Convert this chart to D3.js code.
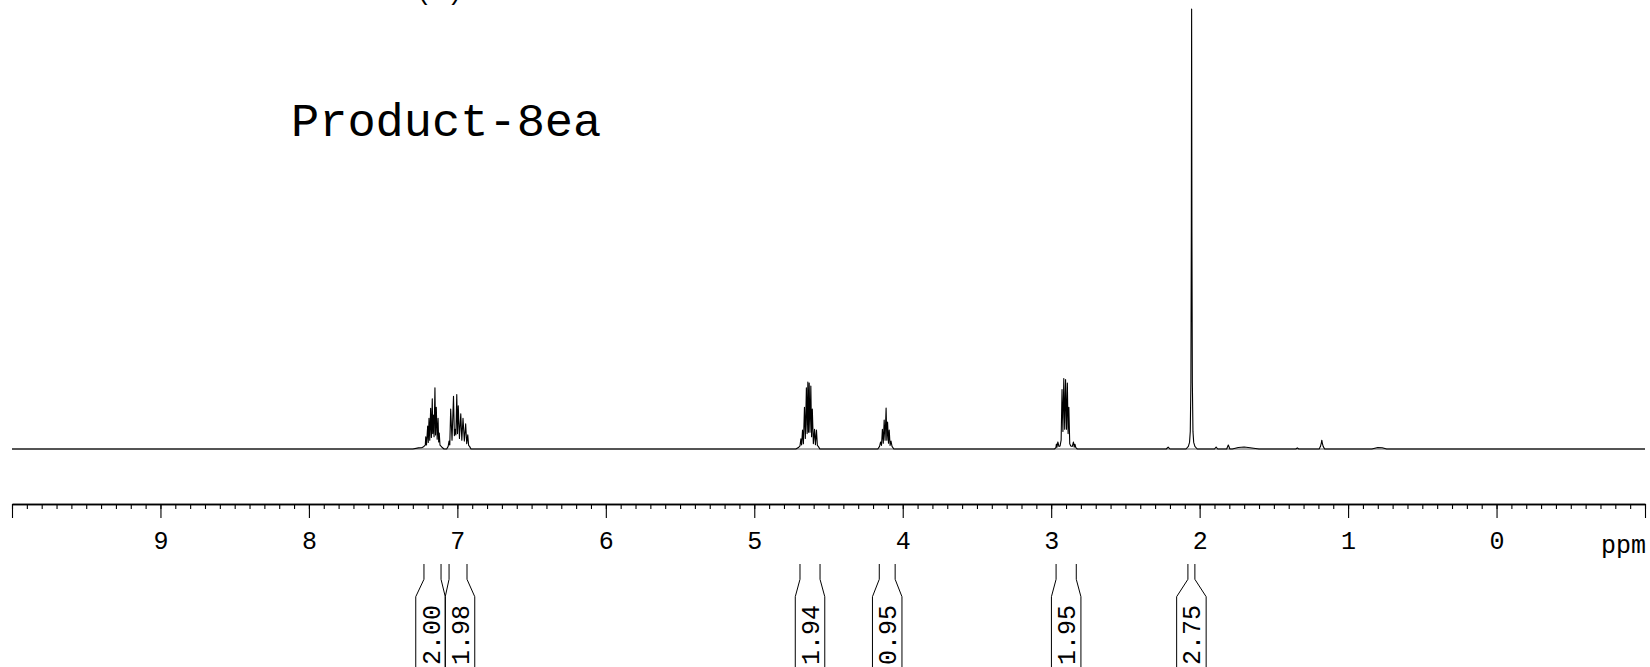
<!DOCTYPE html>
<html>
<head>
<meta charset="utf-8">
<script src="https://cdn.jsdelivr.net/npm/d3@7"></script>
<style>
html,body{margin:0;padding:0;background:#fff;overflow:hidden}
svg{display:block}
</style>
</head>
<body>
<svg id="chart" width="1650" height="667"></svg>
<script>
// ---------------- data (ppm, intensity as % of the tallest signal) ----------------
const titleText = "Product-8ea";
const panelLabel = "(a)";
const axisUnit = "ppm";

const majorTicks = [10, 9, 8, 7, 6, 5, 4, 3, 2, 1, 0, -1];
const majorTickLabels = ["", "9", "8", "7", "6", "5", "4", "3", "2", "1", "0", ""];

// integral regions
const integralValues = ["2.00", "1.98", "1.94", "0.95", "1.95", "2.75"];
const integralFrom   = [7.225, 7.056, 4.692, 4.158, 2.967, 2.079];
const integralTo     = [7.110, 6.935, 4.557, 4.051, 2.831, 2.032];

// spectrum trace vertices
const traceEnds = [[10.0, 0], [-1.0, 0]];

const multiplet717 = [
  [7.300, 0], [7.262, 0.25], [7.240, 0.3], [7.228, 0.5], [7.222, 0.7], [7.216, 0.9],
  [7.213, 2.8], [7.208, 0.9], [7.200, 5.2], [7.196, 1.5], [7.191, 7.0], [7.186, 2.0],
  [7.180, 9.25], [7.175, 2.6], [7.169, 11.4], [7.166, 3.5], [7.162, 7.7], [7.157, 2.8],
  [7.151, 13.9], [7.147, 3.2], [7.142, 9.5], [7.136, 2.2], [7.130, 7.0], [7.126, 1.6],
  [7.122, 3.6], [7.117, 0.9], [7.112, 0.7], [7.104, 0.4], [7.090, 0]
];

const multiplet700 = [
  [7.072, 0], [7.062, 0.6], [7.056, 1.8], [7.051, 0.9], [7.045, 9.1], [7.036, 2.0],
  [7.026, 12.0], [7.020, 3.0], [7.015, 4.5], [7.010, 3.2], [7.004, 12.4], [6.999, 3.5],
  [6.994, 9.8], [6.986, 2.4], [6.977, 8.0], [6.970, 2.0], [6.962, 7.0], [6.953, 1.8],
  [6.944, 5.7], [6.937, 1.2], [6.930, 3.2], [6.924, 0.8], [6.918, 0.6], [6.908, 0]
];

const multiplet464 = [
  [4.720, 0], [4.700, 0.4], [4.692, 0.7], [4.686, 2.3], [4.681, 0.9], [4.675, 4.3],
  [4.669, 1.2], [4.662, 9.5], [4.656, 2.4], [4.649, 13.9], [4.644, 3.5], [4.639, 15.2],
  [4.635, 3.8], [4.630, 15.0], [4.625, 3.8], [4.619, 14.3], [4.614, 2.8], [4.609, 9.1],
  [4.602, 1.2], [4.594, 4.5], [4.588, 1.0], [4.581, 4.3], [4.575, 0.8], [4.569, 0.6], [4.558, 0]
];

const multiplet411 = [
  [4.168, 0], [4.156, 0.6], [4.149, 1.6], [4.143, 0.8], [4.137, 4.5], [4.131, 1.3],
  [4.125, 6.6], [4.119, 2.0], [4.112, 9.3], [4.107, 2.0], [4.102, 6.1], [4.096, 1.3],
  [4.091, 4.3], [4.085, 0.8], [4.079, 1.8], [4.072, 0.6], [4.060, 0]
];

const multiplet291 = [
  [2.978, 0], [2.968, 0.3], [2.965, 1.1], [2.961, 0.4], [2.955, 1.6], [2.948, 0.6],
  [2.940, 0.7], [2.933, 2.0], [2.927, 13.5], [2.921, 4.0], [2.915, 16.0], [2.909, 4.5],
  [2.903, 15.8], [2.897, 4.5], [2.891, 15.0], [2.886, 3.5], [2.881, 9.5], [2.875, 1.2],
  [2.868, 0.7], [2.858, 0.6], [2.850, 1.6], [2.845, 0.4], [2.840, 1.1], [2.834, 0.3], [2.824, 0]
];

const singlet205 = [
  [2.092, 0], [2.076, 0.6], [2.068, 1.5], [2.063, 4.0], [2.059, 15], [2.056, 50],
  [2.054, 100], [2.052, 50], [2.049, 15], [2.045, 4.0], [2.040, 1.5], [2.032, 0.6], [2.016, 0]
];

const minorSignals = [
  [2.225, 0], [2.212, 0.45], [2.200, 0],
  [1.900, 0], [1.889, 0.45], [1.878, 0],
  [1.818, 0], [1.807, 0.9], [1.796, 0],
  [1.780, 0], [1.740, 0.35], [1.700, 0.45], [1.660, 0.3], [1.600, 0],
  [1.352, 0], [1.342, 0.25], [1.332, 0],
  [1.195, 0], [1.186, 0.6], [1.180, 1.4], [1.177, 2.0], [1.174, 1.4], [1.168, 0.6], [1.158, 0],
  [0.840, 0], [0.800, 0.35], [0.770, 0.3], [0.740, 0]
];

// ---------------- drawing ----------------
const W = 1650, H = 667;
const FONT = "'Courier New','Liberation Mono',monospace";
const svg = d3.select("#chart");

const x = d3.scaleLinear().domain([10, -1]).range([12, 1645]);
const y = d3.scaleLinear().domain([0, 100]).range([449, 9]);

const trace = [].concat(traceEnds, multiplet717, multiplet700, multiplet464,
  multiplet411, multiplet291, singlet205, minorSignals)
  .sort((a, b) => b[0] - a[0]);

// zero line (visible under multiplet feet)
svg.append("line")
  .attr("x1", x(10)).attr("x2", x(-1))
  .attr("y1", y(0)).attr("y2", y(0))
  .attr("stroke", "#555").attr("stroke-width", 1);

const line = d3.line().x(d => x(d[0])).y(d => y(d[1]));
svg.append("path")
  .datum(trace)
  .attr("d", line)
  .attr("fill", "none")
  .attr("stroke", "#000")
  .attr("stroke-width", 1.1)
  .attr("stroke-linejoin", "round");

// axis
const axisY = 504;
const minorTicks = d3.range(0, 111).map(i => +(10 - i * 0.1).toFixed(1));
const axisG = svg.append("g").attr("transform", `translate(0,${axisY})`);

axisG.append("g").call(
  d3.axisBottom(x).tickValues(minorTicks).tickSize(5).tickSizeOuter(0).tickFormat(""));
const majorG = axisG.append("g").call(
  d3.axisBottom(x).tickValues(majorTicks).tickSize(14).tickSizeOuter(0)
    .tickFormat((d, i) => majorTickLabels[i]));

axisG.selectAll(".domain").attr("stroke", "#000").attr("stroke-width", 1.3);
axisG.selectAll(".tick line").attr("stroke", "#000").attr("stroke-width", 1.1);
majorG.selectAll(".tick text")
  .attr("y", 45).attr("dy", null)
  .attr("fill", "#000")
  .style("font-family", FONT).style("font-size", "25px");

svg.append("text")
  .attr("x", 1646).attr("y", 553)
  .attr("text-anchor", "end")
  .style("font-family", FONT).style("font-size", "25px")
  .attr("fill", "#000")
  .text(axisUnit);

// integrals
const boxW = 29.5, hw = boxW / 2;
const yTop = 564, yK1 = 579.3, yK2 = 596.7;
const integrals = integralValues.map((v, i) => {
  const xa = x(integralFrom[i]), xb = x(integralTo[i]);
  return { v, xa, xb, cx: (xa + xb) / 2 };
}).sort((a, b) => a.cx - b.cx);
for (let i = 1; i < integrals.length; i++) {
  const d = integrals[i].cx - integrals[i - 1].cx;
  if (d < boxW) {
    const o = (boxW - d) / 2;
    integrals[i - 1].cx -= o;
    integrals[i].cx += o;
  }
}
const ig = svg.append("g");
integrals.forEach(d => {
  ig.append("path")
    .attr("d", `M${d.xa},${yTop}V${yK1}L${d.cx - hw},${yK2}V${H}` +
               `M${d.xb},${yTop}V${yK1}L${d.cx + hw},${yK2}V${H}`)
    .attr("fill", "none").attr("stroke", "#000").attr("stroke-width", 1);
  ig.append("text")
    .attr("transform", `translate(${d.cx},665) rotate(-90)`)
    .attr("text-anchor", "start")
    .attr("dy", "0.36em")
    .style("font-family", FONT).style("font-size", "25px")
    .attr("fill", "#000")
    .text(d.v);
});

// titles
svg.append("text")
  .attr("x", 291).attr("y", 136)
  .style("font-family", FONT).style("font-size", "47px")
  .attr("fill", "#000")
  .text(titleText);

svg.append("text")
  .attr("x", 416).attr("y", 0)
  .style("font-family", FONT).style("font-size", "26px")
  .attr("fill", "#000")
  .text(panelLabel);
</script>
</body>
</html>
